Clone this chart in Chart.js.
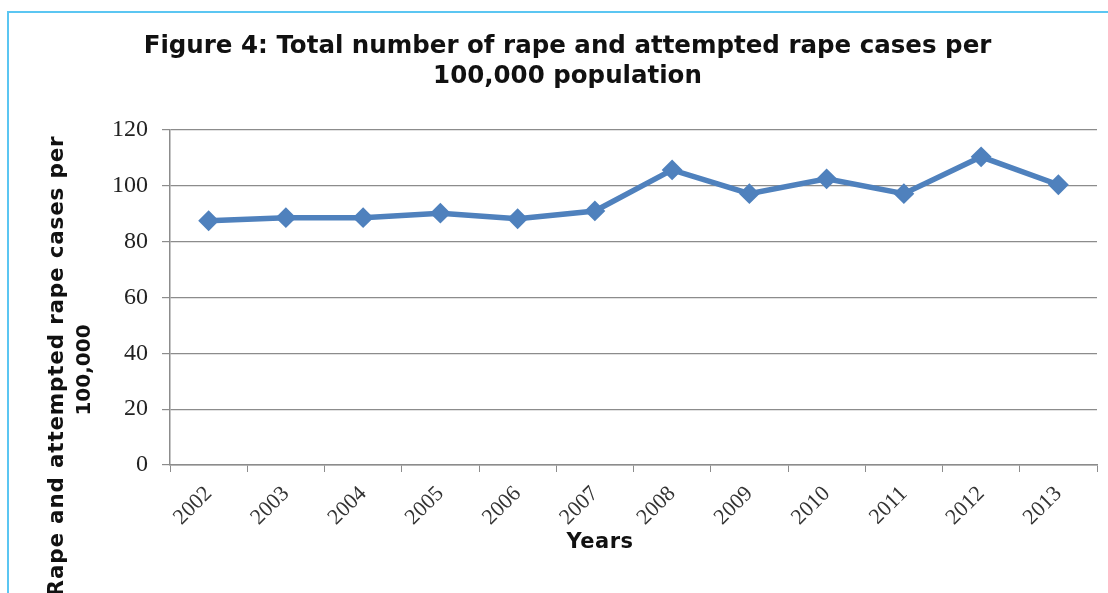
<!DOCTYPE html>
<html>
<head>
<meta charset="utf-8">
<script src="https://cdn.jsdelivr.net/npm/chart.js@4.4.1/dist/chart.umd.min.js"></script>
<style>
  html, body { margin: 0; padding: 0; background: #fff; overflow: hidden; }
  #wrap { position: relative; width: 1108px; height: 593px; }
  #frame { position: absolute; left: 7px; top: 11px; width: 1200px; height: 700px; border: 2px solid #5bc6f2; }
  canvas { position: absolute; left: 0; top: 0; }
</style>
</head>
<body>
<div id="wrap">
  <div id="frame"></div>
  <canvas id="rapeChart" width="1108" height="593"></canvas>
</div>
<script>
const years = ['2002', '2003', '2004', '2005', '2006', '2007', '2008', '2009', '2010', '2011', '2012', '2013'];
const casesPer100k = [87.5, 88.6, 88.6, 90.2, 88.2, 91.0, 105.7, 97.2, 102.5, 97.2, 110.4, 100.4];
const titleLines = ['Figure 4: Total number of rape and attempted rape cases per', '100,000 population'];
const yTitleLines = ['Rape and attempted rape cases per', '100,000'];
const xTitle = 'Years';

const titleFont = '"DejaVu Sans", sans-serif';
const tickFont = '"Liberation Serif", "Times New Roman", serif';

// axis titles sit off-centre in the original, so they are drawn by hand
const axisTitles = {
    id: 'axisTitles',
    afterDraw(chart) {
        const { ctx, chartArea } = chart;
        ctx.save();
        ctx.fillStyle = '#111';
        ctx.textAlign = 'center';
        ctx.textBaseline = 'middle';
        ctx.font = 'bold 21px ' + titleFont;
        ctx.letterSpacing = '0.5px';
        ctx.fillText(xTitle, 600, chartArea.bottom + 78);

        ctx.translate(0, 366);
        ctx.rotate(-Math.PI / 2);
        ctx.font = 'bold 21.5px ' + titleFont;
        ctx.letterSpacing = '0.8px';
        ctx.fillText(yTitleLines[0], 0, 57);
        ctx.font = 'bold 20px ' + titleFont;
        ctx.letterSpacing = '0px';
        ctx.fillText(yTitleLines[1], -4, 85);
        ctx.restore();
    }
};

const ctx = document.getElementById('rapeChart').getContext('2d');
new Chart(ctx, {
    type: 'line',
    data: {
        labels: years,
        datasets: [{
            data: casesPer100k,
            borderColor: '#4f81bd',
            backgroundColor: '#4f81bd',
            borderWidth: 5.5,
            pointStyle: 'rectRot',
            pointRadius: 9,
            pointBorderWidth: 2,
            pointBackgroundColor: '#4f81bd',
            pointBorderColor: '#4f81bd',
            tension: 0
        }]
    },
    options: {
        responsive: false,
        animation: false,
        layout: { padding: { left: 36, right: 9, top: 0, bottom: 0 } },
        plugins: {
            legend: { display: false },
            tooltip: { enabled: false },
            title: {
                display: true,
                text: titleLines,
                color: '#111',
                font: { family: titleFont, size: 24.5, weight: 'bold', lineHeight: '30px' },
                padding: { top: 32, bottom: 38 }
            }
        },
        scales: {
            x: {
                offset: true,
                grid: {
                    offset: true,
                    drawOnChartArea: false,
                    drawTicks: true,
                    tickLength: 7,
                    color: '#8c8c8c'
                },
                border: { display: true, color: '#8c8c8c', width: 1.5 },
                ticks: {
                    color: '#333',
                    font: { family: tickFont, size: 22 },
                    maxRotation: 45,
                    minRotation: 45,
                    padding: 9,
                    autoSkip: false
                },
                afterFit(scale) { scale.height = 128; }
            },
            y: {
                min: 0,
                max: 120,
                ticks: {
                    stepSize: 20,
                    color: '#222',
                    font: { family: tickFont, size: 24 },
                    padding: 14
                },
                grid: {
                    color: '#8c8c8c',
                    lineWidth: 1.2,
                    drawTicks: true,
                    tickLength: 8
                },
                border: { display: true, color: '#8c8c8c', width: 1.5 },
                afterFit(scale) { scale.width = 134; }
            }
        }
    },
    plugins: [axisTitles]
});
</script>
</body>
</html>
